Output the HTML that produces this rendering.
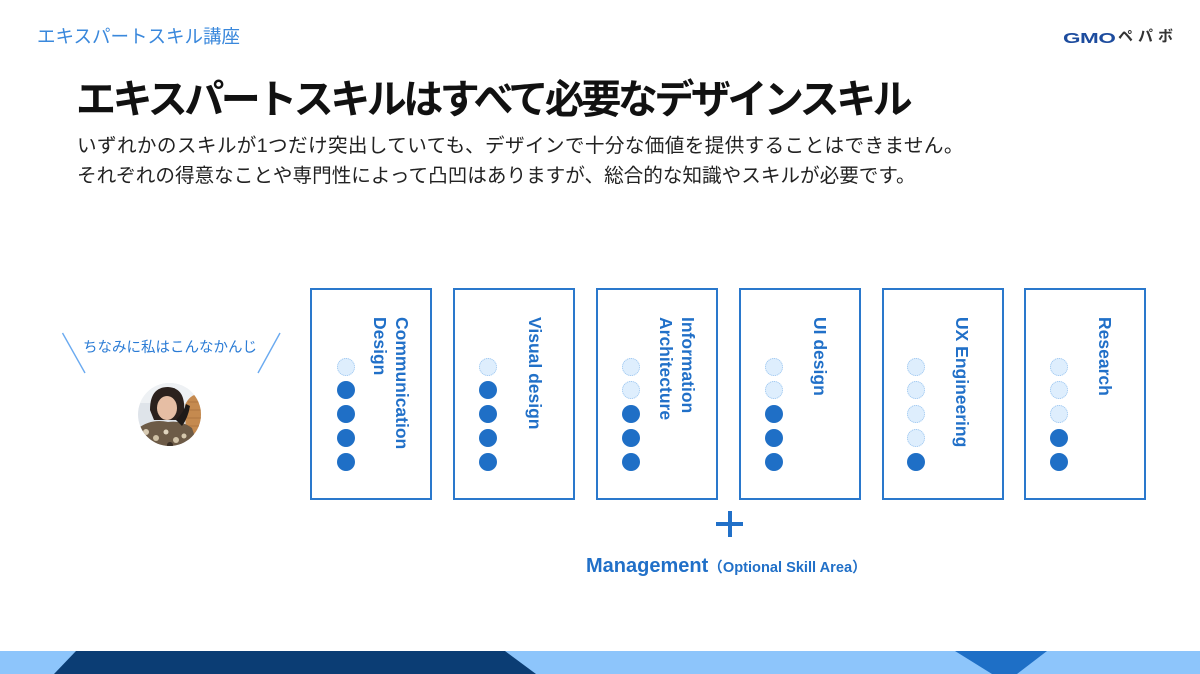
<!DOCTYPE html>
<html>
<head>
<meta charset="utf-8">
<style>
  html,body{margin:0;padding:0;}
  body{width:1200px;height:674px;position:relative;overflow:hidden;background:#fff;
       font-family:"Liberation Sans","Noto Sans CJK JP",sans-serif;}
  .abs{position:absolute;white-space:nowrap;}
  .hdr{left:37px;top:27px;font-size:18.5px;line-height:20px;color:#3a88dc;}
  .title{left:76px;top:80px;font-size:40px;line-height:40px;font-weight:bold;color:#111;letter-spacing:-3.5px;}
  .sub{left:77px;top:131px;font-size:19.6px;line-height:30px;color:#222;}
  .box{position:absolute;top:288px;width:122px;height:212px;box-sizing:border-box;border:2px solid #2a78cc;}
  .dot{position:absolute;width:18px;height:18px;border-radius:50%;box-sizing:border-box;}
  .on{background:#1f6fc6;}
  .off{background:#deeefd;border:1px dotted #9cc6f0;}
  .vwrap{position:absolute;top:317px;width:80px;display:flex;justify-content:center;}
  .vt{writing-mode:vertical-rl;font-size:17.5px;line-height:22px;font-weight:bold;color:#2170c8;white-space:nowrap;}
</style>
</head>
<body>

<div class="abs hdr">エキスパートスキル講座</div>

<!-- logo -->
<div class="abs" style="left:1063px;top:30px;height:16px;">
  <span style="display:inline-block;font-size:15px;line-height:16px;font-weight:bold;color:#1d4c9e;transform:scaleX(1.5);transform-origin:0 0;letter-spacing:-0.3px;">GMO</span>
</div>
<div class="abs" style="left:1118px;top:29px;font-size:15px;line-height:16px;font-weight:bold;color:#333;letter-spacing:5px;">ペパボ</div>

<div class="abs title">エキスパートスキルはすべて必要なデザインスキル</div>
<div class="abs sub"><span style="letter-spacing:0.38px;">いずれかのスキルが1つだけ突出していても、デザインで十分な価値を提供することはできません。</span><br>それぞれの得意なことや専門性によって凸凹はありますが、総合的な知識やスキルが必要です。</div>

<!-- left comment -->
<svg class="abs" style="left:0;top:0;" width="300" height="460">
  <line x1="62.5" y1="333" x2="85" y2="373" stroke="#6aaaf0" stroke-width="1.4"/>
  <line x1="280" y1="333" x2="258" y2="373" stroke="#6aaaf0" stroke-width="1.4"/>
  <defs><clipPath id="c"><circle cx="169.5" cy="414.5" r="31.5"/></clipPath></defs>
  <g clip-path="url(#c)">
    <rect x="136" y="381" width="70" height="70" fill="#dfe4ea"/>
    <rect x="136" y="381" width="70" height="22" fill="#eef1f4"/>
    <path d="M185 405 Q192 390 206 396 L206 440 L186 440 Z" fill="#c58a4f"/>
    <path d="M188 402 L206 402 M187 410 L206 410 M187 418 L206 418 M187 426 L206 426" stroke="#b07640" stroke-width="1"/>
    <path d="M150 410 Q150 387 168 387 Q186 388 184 412 L182 420 L154 420 Z" fill="#2b211d"/>
    <ellipse cx="167" cy="408" rx="10" ry="12" fill="#e6bea4"/>
    <path d="M136 430 Q150 418 168 422 Q182 420 192 428 L200 452 L136 452 Z" fill="#6d5b47"/>
    <circle cx="146" cy="432" r="3" fill="#d9ccb4"/><circle cx="156" cy="438" r="3" fill="#cfc0a4"/>
    <circle cx="166" cy="432" r="2.5" fill="#e0d4be"/><circle cx="176" cy="440" r="3" fill="#d2c3a8"/>
    <circle cx="150" cy="444" r="2.5" fill="#3a2f26"/><circle cx="170" cy="445" r="3" fill="#3a2f26"/>
    <circle cx="184" cy="436" r="2.5" fill="#d6c8ad"/>
    <path d="M176 420 Q184 412 186 404 L190 406 Q188 418 182 426 Z" fill="#1e1a18"/>
  </g>
</svg>
<div class="abs" style="left:83px;top:340px;font-size:14.5px;line-height:16px;color:#2a7bd5;">ちなみに私はこんなかんじ</div>

<!-- boxes -->
<div class="box" style="left:310px;"></div>
<div class="box" style="left:453px;"></div>
<div class="box" style="left:596px;"></div>
<div class="box" style="left:739px;"></div>
<div class="box" style="left:882px;"></div>
<div class="box" style="left:1024px;"></div>

<div class="vwrap" style="left:351px;"><div class="vt">Communication<br>Design</div></div>
<div class="vwrap" style="left:495px;"><div class="vt">Visual design</div></div>
<div class="vwrap" style="left:637px;"><div class="vt">Information<br>Architecture</div></div>
<div class="vwrap" style="left:780px;"><div class="vt">UI design</div></div>
<div class="vwrap" style="left:922px;"><div class="vt">UX Engineering</div></div>
<div class="vwrap" style="left:1065px;"><div class="vt">Research</div></div>

<!-- dots: box1 -->
<div class="dot off" style="left:337px;top:358px;"></div>
<div class="dot on"  style="left:337px;top:381px;"></div>
<div class="dot on"  style="left:337px;top:405px;"></div>
<div class="dot on"  style="left:337px;top:429px;"></div>
<div class="dot on"  style="left:337px;top:453px;"></div>
<!-- box2 -->
<div class="dot off" style="left:479px;top:358px;"></div>
<div class="dot on"  style="left:479px;top:381px;"></div>
<div class="dot on"  style="left:479px;top:405px;"></div>
<div class="dot on"  style="left:479px;top:429px;"></div>
<div class="dot on"  style="left:479px;top:453px;"></div>
<!-- box3 -->
<div class="dot off" style="left:622px;top:358px;"></div>
<div class="dot off" style="left:622px;top:381px;"></div>
<div class="dot on"  style="left:622px;top:405px;"></div>
<div class="dot on"  style="left:622px;top:429px;"></div>
<div class="dot on"  style="left:622px;top:453px;"></div>
<!-- box4 -->
<div class="dot off" style="left:765px;top:358px;"></div>
<div class="dot off" style="left:765px;top:381px;"></div>
<div class="dot on"  style="left:765px;top:405px;"></div>
<div class="dot on"  style="left:765px;top:429px;"></div>
<div class="dot on"  style="left:765px;top:453px;"></div>
<!-- box5 -->
<div class="dot off" style="left:907px;top:358px;"></div>
<div class="dot off" style="left:907px;top:381px;"></div>
<div class="dot off" style="left:907px;top:405px;"></div>
<div class="dot off" style="left:907px;top:429px;"></div>
<div class="dot on"  style="left:907px;top:453px;"></div>
<!-- box6 -->
<div class="dot off" style="left:1050px;top:358px;"></div>
<div class="dot off" style="left:1050px;top:381px;"></div>
<div class="dot off" style="left:1050px;top:405px;"></div>
<div class="dot on"  style="left:1050px;top:429px;"></div>
<div class="dot on"  style="left:1050px;top:453px;"></div>

<!-- plus -->
<div class="abs" style="left:716px;top:522px;width:27px;height:4px;background:#2170c8;"></div>
<div class="abs" style="left:727.5px;top:511px;width:4px;height:26px;background:#2170c8;"></div>

<!-- management -->
<div class="abs" style="left:586px;top:556px;font-size:20px;line-height:20px;font-weight:bold;color:#2170c8;">Management<span style="font-size:14.6px;">（Optional Skill Area）</span></div>

<!-- bottom band -->
<svg class="abs" style="left:0;top:651px;" width="1200" height="23">
  <rect x="0" y="0" width="1200" height="23" fill="#8dc5fb"/>
  <polygon points="76,0 505,0 536,23 54,23" fill="#0b3d74"/>
  <polygon points="955,0 1047,0 1017,23 992,23" fill="#1e6fc6"/>
</svg>

</body>
</html>
